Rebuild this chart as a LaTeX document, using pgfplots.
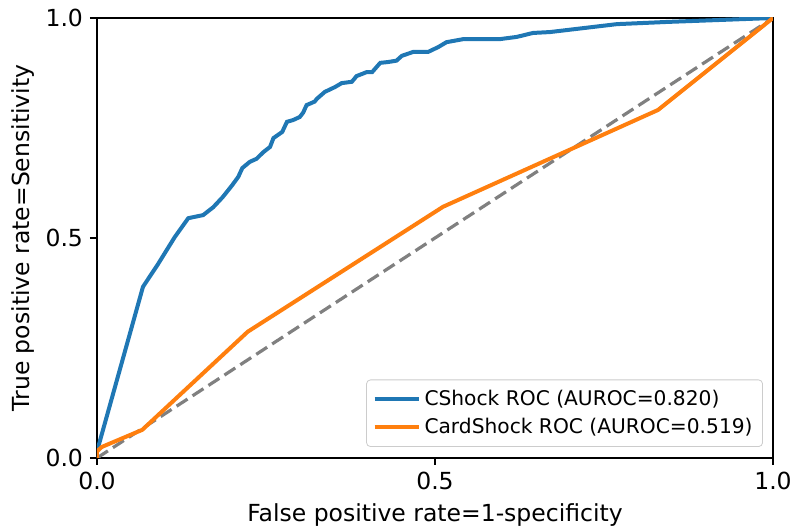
\documentclass[border=0pt]{standalone}
\usepackage{fontspec}
\setmainfont{DejaVu Sans}
\usepackage{pgfplots}
\pgfplotsset{compat=1.18}

\definecolor{mplblue}{HTML}{1F77B4}
\definecolor{mplorange}{HTML}{FF7F0E}
\definecolor{mplgray}{HTML}{808080}

\begin{document}
\begin{tikzpicture}
\begin{axis}[
    name=ax,
    scale only axis,
    width=338pt, height=220pt,
    xmin=0, xmax=1, ymin=0, ymax=1,
    xtick={0,0.5,1}, ytick={0,0.5,1},
    /pgf/number format/assume math mode=true,
    /pgf/number format/fixed,
    /pgf/number format/fixed zerofill,
    /pgf/number format/precision=1,
    tick align=outside,
    tick pos=left,
    major tick length=3.5pt,
    axis line style={line width=0.9pt},
    every tick/.style={black, line width=0.9pt},
    ticklabel style={font=\fontsize{11.75}{14}\selectfont},
    label style={font=\fontsize{11.75}{14}\selectfont},
    xlabel={False positive rate=1-specificity},
    ylabel={True positive rate=Sensitivity},
    ylabel style={yshift=-1.5pt},
    legend style={at={(rel axis cs:1,0)}, anchor=south east,
        xshift=-5pt, yshift=5.5pt,
        draw=black!20, rounded corners=2pt,
        fill=white, fill opacity=0.8, text opacity=1,
        font=\fontsize{10.1}{12}\selectfont,
        inner sep=3pt, row sep=1pt},
    legend cell align=left,
    legend image code/.code={\draw[#1] (0pt,0pt) -- (22pt,0pt);},
]
\addplot[mplgray, line width=1.6pt, dash pattern=on 6.5pt off 3pt, forget plot]
    coordinates {(0,0) (1,1)};
\addplot[mplblue, line width=2pt] coordinates {
(0,0) (0,0.015) (0.068,0.389) (0.09,0.44) (0.115,0.502) (0.135,0.545)
(0.157,0.552) (0.172,0.57) (0.186,0.593) (0.2,0.62) (0.209,0.639)
(0.215,0.659) (0.226,0.673) (0.236,0.680) (0.246,0.695) (0.256,0.707)
(0.261,0.727) (0.274,0.741) (0.281,0.764) (0.290,0.768) (0.300,0.775)
(0.305,0.785) (0.310,0.802) (0.322,0.810) (0.325,0.816) (0.337,0.832)
(0.352,0.843) (0.362,0.852) (0.377,0.855) (0.384,0.868) (0.399,0.877)
(0.407,0.877) (0.419,0.898) (0.431,0.900) (0.443,0.903) (0.451,0.914)
(0.468,0.923) (0.490,0.923) (0.505,0.934) (0.517,0.945) (0.542,0.952)
(0.596,0.952) (0.621,0.957) (0.645,0.966) (0.670,0.968) (0.769,0.986)
(0.843,0.991) (1,1)
};
\addlegendentry{CShock ROC (AUROC=0.820)}
\addplot[mplorange, line width=2pt] coordinates {
(0,0) (0,0.015) (0.007,0.025) (0.067,0.064) (0.223,0.287)
(0.512,0.571) (0.830,0.791) (1,1)
};
\addlegendentry{CardShock ROC (AUROC=0.519)}
\end{axis}
\pgfresetboundingbox
\path[use as bounding box] (ax.south west) ++(-48.5pt,-35pt) rectangle ++(397pt,264pt);
\end{tikzpicture}
\end{document}
